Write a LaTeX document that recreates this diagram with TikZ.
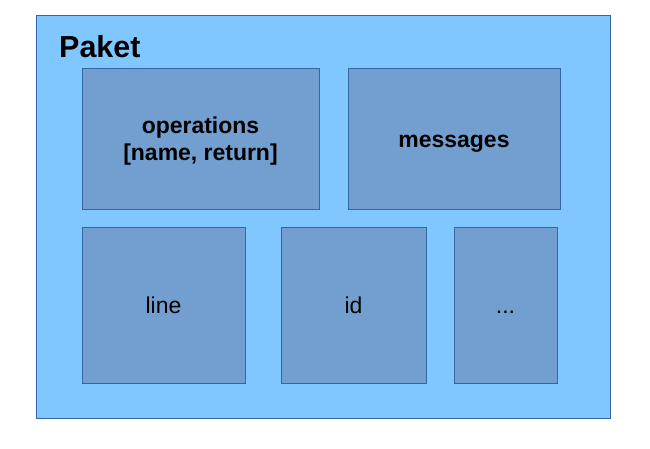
\documentclass[tikz,border=0pt]{standalone}
\usepackage{fontspec}
\setmainfont{Liberation Sans}
\usetikzlibrary{positioning}
\definecolor{sky}{RGB}{129,199,255}
\definecolor{slate}{RGB}{114,159,207}
\definecolor{edge}{RGB}{52,101,164}
\tikzset{
  part/.style={draw=edge,fill=slate,line width=0.8pt,inner sep=0pt,align=center,
    font=\fontsize{19.6}{22.5}\selectfont},
  boldpart/.style={part,font=\fontsize{19.6}{22.5}\selectfont\bfseries},
}
\begin{document}
\begin{tikzpicture}[x=0.03cm,y=-0.03cm]
\useasboundingbox (0,0) rectangle (650,448);
\node[draw=edge,fill=sky,line width=0.8pt,minimum width=17.22cm,minimum height=12.09cm,inner sep=0pt] (paketbox) at (323,216.5) {};
\node[anchor=west,font=\fontsize{26}{28}\selectfont\bfseries,inner sep=0pt] (paket) at (59,47) {Paket};
\node[boldpart,minimum width=7.11cm,minimum height=4.23cm] (ops) at (200.5,138.5) {\rule{0pt}{18.5pt}operations\\{}[name, return]};
\node[boldpart,minimum width=6.36cm,minimum height=4.23cm] (msg) at (454,138.5) {\rule{0pt}{19.5pt}messages};
\node[part,minimum width=4.89cm,minimum height=4.68cm] (line) at (163.5,305) {line};
\node[part,minimum width=4.35cm,minimum height=4.68cm] (id) at (353.5,305) {id};
\node[part,minimum width=3.09cm,minimum height=4.68cm] (more) at (505.5,305) {\vphantom{line}...};
\end{tikzpicture}
\end{document}
